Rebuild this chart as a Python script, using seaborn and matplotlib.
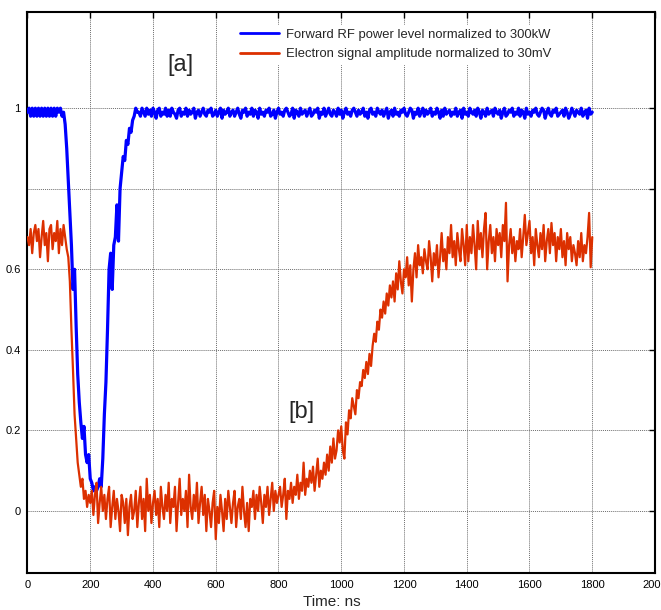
import matplotlib
matplotlib.use("Agg")
import matplotlib.pyplot as plt
import seaborn as sns
import numpy as np
import pandas as pd
from matplotlib.ticker import FixedLocator, FixedFormatter

# ---------------- data ----------------
time_ns = list(range(0, 1805, 5))

rf_power = [
    # 0..115
    0.99, 1.00, 0.98, 1.00, 0.98, 1.00, 0.98, 1.00, 0.98, 1.00, 0.98, 1.00,
    0.98, 1.00, 0.98, 1.00, 0.98, 1.00, 0.98, 1.00, 0.99, 1.00, 0.98, 0.99,
    # 120..350
    0.96, 0.90, 0.82, 0.74, 0.66, 0.55, 0.60, 0.46, 0.34, 0.27,
    0.22, 0.18, 0.21, 0.14, 0.12, 0.14, 0.08, 0.07, 0.05, 0.06,
    0.05, 0.06, 0.08, 0.06, 0.13, 0.24, 0.32, 0.45, 0.60, 0.64,
    0.55, 0.66, 0.68, 0.76, 0.67, 0.80, 0.84, 0.88, 0.87, 0.92,
    0.91, 0.95, 0.94, 0.97, 0.98, 1.00, 0.99,
    # 355..1800
    0.99, 0.98, 1.00, 0.99, 0.98, 1.00, 0.985, 0.995, 0.98, 1.00,
    0.99, 0.975, 0.995, 1.00, 0.98, 0.99, 0.985, 1.00, 0.98, 0.995,
    0.98, 1.00, 0.99, 0.985, 0.975, 0.995, 1.00, 0.98, 0.99, 0.985,
    1.00, 0.98, 0.995, 0.985, 0.99, 1.00, 0.975, 0.99, 0.995, 0.98,
    0.99, 1.00, 0.985, 0.98, 0.995, 0.99, 1.00, 0.98, 0.985, 0.995,
    0.98, 0.99, 1.00, 0.975, 0.995, 0.985, 0.99, 1.00, 0.98, 0.99,
    0.995, 0.98, 0.99, 1.00, 0.985, 0.975, 0.995, 0.99, 1.00, 0.98,
    0.99, 0.985, 1.00, 0.98, 0.995, 0.99, 0.975, 1.00, 0.985, 0.99,
    0.98, 0.995, 0.99, 1.00, 0.98, 0.985, 0.995, 0.975, 0.99, 1.00,
    0.985, 0.99, 0.98, 0.995, 1.00, 0.99, 0.98, 0.985, 1.00, 0.975,
    0.995, 0.99, 0.98, 1.00, 0.985, 0.99, 0.995, 0.98, 0.99, 1.00,
    0.98, 0.985, 0.995, 0.99, 1.00, 0.975, 0.99, 0.985, 1.00, 0.98,
    0.99, 1.00, 0.985, 0.98, 0.995, 0.99, 0.98, 1.00, 0.985, 0.995,
    0.975, 0.99, 1.00, 0.985, 0.99, 0.98, 0.995, 1.00, 0.99, 0.98,
    0.995, 0.985, 0.99, 1.00, 0.98, 0.99, 0.975, 0.995, 1.00, 0.985,
    0.99, 0.98, 1.00, 0.99, 0.985, 0.995, 0.98, 0.99, 1.00, 0.975,
    0.99, 0.995, 0.98, 1.00, 0.985, 0.99, 0.98, 0.995, 0.99, 1.00,
    0.985, 0.98, 0.99, 1.00, 0.995, 0.975, 0.99, 0.985, 1.00, 0.98,
    0.99, 1.00, 0.98, 0.995, 0.985, 0.99, 1.00, 0.98, 0.99, 0.985,
    1.00, 0.99, 0.975, 0.995, 0.98, 1.00, 0.985, 0.99, 0.995, 0.98,
    0.99, 0.985, 1.00, 0.98, 0.99, 0.995, 0.975, 1.00, 0.985, 0.99,
    0.98, 1.00, 0.99, 0.985, 0.995, 0.98, 1.00, 0.99, 0.975, 0.995,
    0.99, 0.98, 1.00, 0.985, 0.99, 0.995, 0.98, 1.00, 0.99, 0.985,
    0.995, 0.975, 0.99, 1.00, 0.98, 0.985, 0.995, 0.99, 1.00, 0.98,
    0.99, 0.985, 1.00, 0.98, 0.995, 0.99, 0.975, 1.00, 0.985, 0.99,
    0.98, 0.995, 0.99, 1.00, 0.985, 0.98, 0.99, 1.00, 0.995, 0.975,
    0.99, 1.00, 0.985, 0.98, 0.995, 0.99, 1.00, 0.98, 0.985, 0.99,
    0.995, 0.98, 1.00, 0.99, 0.975, 0.985, 1.00, 0.99, 0.98, 0.995,
    0.99, 0.985, 1.00, 0.98, 0.99, 0.995, 0.975, 1.00, 0.985, 0.99,
]

electron_signal = [
    # 0..125
    0.68, 0.66, 0.70, 0.64, 0.69, 0.71, 0.67, 0.70, 0.63, 0.68, 0.72, 0.66, 0.69,
    0.62, 0.70, 0.71, 0.65, 0.69, 0.67, 0.72, 0.64, 0.70, 0.66, 0.71, 0.68, 0.65,
    # 130..200
    0.63, 0.57, 0.45, 0.35, 0.24, 0.18, 0.12, 0.09, 0.06, 0.08, 0.03, 0.05, 0.01, 0.04, 0.02,
    # 205..900
    0.05, -0.01, 0.04, 0.07, -0.03, 0.02, 0.06, 0.00, 0.04, -0.02,
    0.03, 0.06, -0.04, 0.01, 0.05, -0.02, 0.03, 0.00, -0.05, 0.04,
    0.02, -0.03, 0.03, -0.06, 0.01, 0.04, -0.02, 0.00, 0.05, -0.04,
    0.02, 0.06, -0.02, 0.03, -0.05, 0.08, 0.00, 0.04, -0.03, 0.02,
    0.05, -0.01, 0.03, -0.04, 0.06, 0.01, -0.02, 0.04, 0.00, 0.07,
    -0.03, 0.03, 0.01, 0.06, -0.05, 0.02, 0.08, -0.01, 0.03, 0.00,
    0.05, -0.04, 0.09, 0.01, -0.02, 0.04, 0.00, 0.07, -0.03, 0.02,
    0.06, -0.01, 0.04, -0.05, 0.03, 0.00, -0.04, 0.02, 0.05, -0.07,
    0.01, -0.03, 0.04, 0.00, -0.05, 0.03, -0.02, 0.05, 0.01, -0.03,
    0.02, 0.05, -0.04, 0.01, 0.03, -0.02, 0.06, 0.00, -0.04, 0.02,
    -0.05, 0.03, 0.01, 0.05, -0.02, 0.04, 0.00, 0.06, 0.02, -0.03,
    0.04, 0.01, 0.06, -0.01, 0.03, 0.07, 0.00, 0.05, 0.02, 0.04,
    0.06, 0.01, 0.04, 0.08, -0.02, 0.05, 0.03, 0.07, 0.02, 0.06,
    0.04, 0.09, 0.03, 0.07, 0.05, 0.12, 0.04, 0.08, 0.06, 0.10,
    # 905..1200
    0.07, 0.11, 0.05, 0.09, 0.13, 0.06, 0.10, 0.08, 0.12, 0.09,
    0.14, 0.10, 0.16, 0.12, 0.18, 0.13, 0.15, 0.20, 0.17, 0.21,
    0.15, 0.13, 0.22, 0.19, 0.25, 0.23, 0.28, 0.26, 0.24, 0.30,
    0.28, 0.32, 0.31, 0.35, 0.33, 0.37, 0.34, 0.39, 0.36, 0.41,
    0.44, 0.42, 0.47, 0.45, 0.50, 0.48, 0.52, 0.49, 0.54, 0.51,
    0.56, 0.53, 0.57, 0.52, 0.59, 0.55, 0.62, 0.57, 0.54, 0.60,
    # 1205..1800
    0.58, 0.63, 0.56, 0.61, 0.52, 0.60, 0.64, 0.58, 0.66, 0.61,
    0.63, 0.59, 0.65, 0.62, 0.60, 0.67, 0.63, 0.57, 0.64, 0.61,
    0.66, 0.58, 0.63, 0.69, 0.62, 0.65, 0.60, 0.68, 0.64, 0.71,
    0.63, 0.67, 0.61, 0.69, 0.65, 0.62, 0.70, 0.66, 0.61, 0.71,
    0.62, 0.68, 0.64, 0.71, 0.66, 0.60, 0.72, 0.65, 0.69, 0.63,
    0.70, 0.74, 0.60, 0.67, 0.71, 0.64, 0.68, 0.62, 0.70, 0.66,
    0.69, 0.63, 0.71, 0.67, 0.765, 0.57, 0.66, 0.70, 0.64, 0.68,
    0.62, 0.67, 0.65, 0.70, 0.63, 0.68, 0.735, 0.66, 0.69, 0.72,
    0.64, 0.68, 0.61, 0.70, 0.66, 0.63, 0.69, 0.65, 0.71, 0.62,
    0.67, 0.70, 0.64, 0.715, 0.66, 0.69, 0.62, 0.68, 0.65, 0.70,
    0.63, 0.67, 0.61, 0.69, 0.65, 0.68, 0.62, 0.66, 0.64, 0.61,
    0.67, 0.63, 0.69, 0.62, 0.66, 0.64, 0.68, 0.74, 0.605, 0.68,
]

x_ticks = [0, 200, 400, 600, 800, 1000, 1200, 1400, 1600, 1800, 2000]
x_tick_labels = ["0", "200", "400", "600", "800", "1000", "1200", "1400", "1600", "1800", "2000"]
y_ticks = [0, 0.2, 0.4, 0.6, 0.8, 1.0]
y_tick_labels = ["0", "0.2", "0.4", "0.6", "", "1"]

label_rf = "Forward RF power level normalized to 300kW"
label_el = "Electron signal amplitude normalized to 30mV"

# ---------------- plotting ----------------
sns.set_style("white")
plt.rcParams["font.family"] = ["Liberation Sans", "DejaVu Sans"]

df_rf = pd.DataFrame({"t": time_ns, "v": rf_power})
df_el = pd.DataFrame({"t": time_ns, "v": electron_signal})

fig = plt.figure(figsize=(6.61, 6.10), dpi=100)
ax = fig.add_axes([27.5 / 661, 37 / 610, (655 - 27.5) / 661, (573 - 11.5) / 610])

sns.lineplot(data=df_rf, x="t", y="v", ax=ax, color="#0000ff", lw=2.3,
             estimator=None, sort=False, label=label_rf, zorder=3)
sns.lineplot(data=df_el, x="t", y="v", ax=ax, color="#dc3000", lw=1.6,
             estimator=None, sort=False, label=label_el, zorder=4)

ax.set_xlim(0, 2000)
ax.set_ylim(-0.154, 1.24)
ax.xaxis.set_major_locator(FixedLocator(x_ticks))
ax.xaxis.set_major_formatter(FixedFormatter(x_tick_labels))
ax.yaxis.set_major_locator(FixedLocator(y_ticks))
ax.yaxis.set_major_formatter(FixedFormatter(y_tick_labels))

ax.grid(True, color="#6e6e6e", linestyle=(0, (1, 1)), linewidth=0.7)
ax.set_axisbelow(True)
ax.tick_params(direction="in", length=4, width=1, top=True, right=True,
               labelsize=8, pad=5, colors="black")
for s in ax.spines.values():
    s.set_color("black")
    s.set_linewidth(1.5)

ax.set_xlabel("")
ax.set_ylabel("")
ax.text(0.485, -0.0585, "Time: ns", transform=ax.transAxes, fontsize=11,
        ha="center", va="baseline")

ax.text(488, 1.107, "[a]", fontsize=17, ha="center", va="center")
ax.text(872, 0.246, "[b]", fontsize=17, ha="center", va="center")

leg = ax.legend(loc="upper left", bbox_to_anchor=(0.322, 0.988), fontsize=9.4,
                frameon=True, facecolor="white", edgecolor="white", framealpha=1,
                handlelength=3.0, handletextpad=0.5, labelspacing=0.55,
                borderpad=0.3, fancybox=False)
for line in leg.get_lines():
    line.set_linewidth(2)

fig.savefig("out.png", dpi=100)
